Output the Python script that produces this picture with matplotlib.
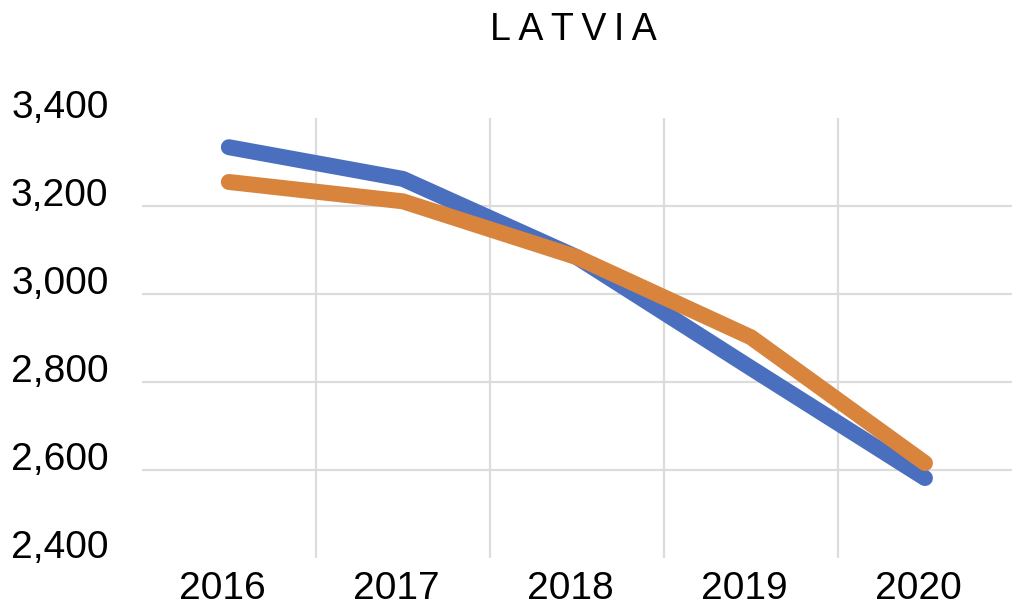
import matplotlib

matplotlib.use("Agg")

import matplotlib.pyplot as plt
from matplotlib.ticker import FuncFormatter
from matplotlib.transforms import ScaledTranslation

years = ["2016", "2017", "2018", "2019", "2020"]
series_blue = [3334, 3262, 3084, 2832, 2582]
series_orange = [3255, 3211, 3084, 2902, 2616]
y_ticks = [2400, 2600, 2800, 3000, 3200, 3400]

BLUE = "#4a6fbf"
ORANGE = "#d8843c"
GRID = "#dcdcdc"

plt.rcParams.update(
    {
        "font.family": ["Liberation Sans", "DejaVu Sans"],
        "font.size": 28,
    }
)

fig = plt.figure(figsize=(10.13, 6.06), dpi=100)
ax = fig.add_axes([0.140, 0.079, 0.859, 0.726])

x = list(range(len(years)))
ax.plot(x, series_blue, color=BLUE, lw=11.5, solid_capstyle="round",
        solid_joinstyle="round", zorder=3)
ax.plot(x, series_orange, color=ORANGE, lw=11.5, solid_capstyle="round",
        solid_joinstyle="round", zorder=4)

ax.set_xlim(-0.5, len(years) - 0.5)
ax.set_ylim(y_ticks[0], y_ticks[-1])

# horizontal grid at interior ticks only
for v in y_ticks[1:-1]:
    ax.axhline(v, color=GRID, lw=1.6, zorder=1)
# vertical grid between categories
for i in range(1, len(years)):
    ax.axvline(i - 0.5, color=GRID, lw=1.6, zorder=1)

ax.set_yticks(y_ticks)
ax.yaxis.set_major_formatter(FuncFormatter(lambda v, p: f"{int(v):,}"))
ax.set_xticks(x)
ax.set_xticklabels(years)
ax.tick_params(axis="y", length=0, pad=24, labelsize=28)
ax.tick_params(axis="x", length=0, pad=9, labelsize=28)

# labels in the reference sit a bit above their gridlines
shift = ScaledTranslation(0, 10.5 / 72, fig.dpi_scale_trans)
for lab in ax.get_yticklabels():
    lab.set_transform(lab.get_transform() + shift)
shift_x = ScaledTranslation(-5 / 72, 0, fig.dpi_scale_trans)
for lab in ax.get_xticklabels():
    lab.set_transform(lab.get_transform() + shift_x)

for s in ax.spines.values():
    s.set_visible(False)

fig.text(0.566, 0.950, "\u2009".join("LATVIA"), ha="center", va="center",
         fontsize=27)

fig.savefig("out.png", dpi=100)
